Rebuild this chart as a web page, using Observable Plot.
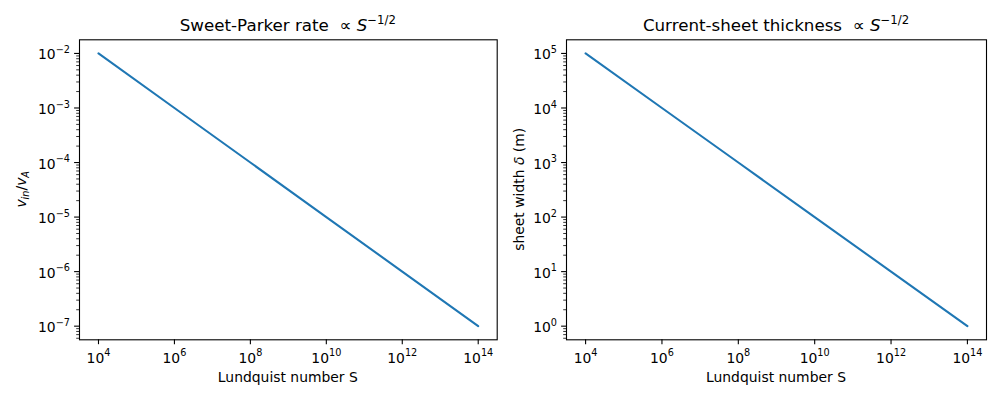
<!DOCTYPE html>
<html>
<head>
<meta charset="utf-8">
<script src="https://cdn.jsdelivr.net/npm/d3@7"></script>
<script src="https://cdn.jsdelivr.net/npm/@observablehq/plot@0.6"></script>
<style>
  html, body { margin: 0; padding: 0; background: white; }
  #chart { display: flex; width: 1000px; height: 400px; }
  #chart svg { display: block; }
</style>
</head>
<body>
<div id="chart"></div>
<script>
// ---- data ----
const lundquist = [1e4, 1e6, 1e8, 1e10, 1e12, 1e14];
const inflowRate = [1e-2, 1e-3, 1e-4, 1e-5, 1e-6, 1e-7];   // v_in / v_A
const sheetWidth = [1e5, 1e4, 1e3, 1e2, 1e1, 1e0];         // delta (m)
const xTickExps = [4, 6, 8, 10, 12, 14];
const rateTickExps = [-7, -6, -5, -4, -3, -2];
const widthTickExps = [0, 1, 2, 3, 4, 5];

const FONT = "DejaVu Sans, Liberation Sans, sans-serif";
const BLUE = "#1f77b4";

function minorTicks(domain) {
  const lo = Math.floor(Math.log10(domain[0])) - 1, hi = Math.ceil(Math.log10(domain[1]));
  const out = [];
  for (let e = lo; e <= hi; e++) for (let m = 2; m <= 9; m++) {
    const v = m * Math.pow(10, e);
    if (v >= domain[0] && v <= domain[1]) out.push(v);
  }
  return out;
}
const expFmt = d => { const e = Math.round(Math.log10(d)); return "10^" + (e < 0 ? "\u2212" + (-e) : e); };

function panel({values, yExps, yDomain, mLeft, mRight, title, ylabel, ylabelX}) {
  const data = lundquist.map((s, i) => ({S: s, v: values[i]}));
  const H = 400, W = 500, mTop = 39.3, mBottom = 60.7;
  const svg = Plot.plot({
    width: W, height: H,
    marginTop: mTop, marginBottom: mBottom, marginLeft: mLeft, marginRight: mRight,
    x: {type: "log", domain: [Math.pow(10, 3.5), Math.pow(10, 14.5)]},
    y: {type: "log", domain: yDomain},
    style: {fontFamily: FONT, fontSize: "13.9px", color: "black", background: "white", overflow: "visible"},
    marks: [
      Plot.axisY({ticks: minorTicks(yDomain), tickSize: 2.8, strokeWidth: 0.8, tickFormat: () => "", label: null}),
      Plot.axisY({ticks: yExps.map(e => Math.pow(10, e)), tickSize: 4.9, tickPadding: 4.6, strokeWidth: 1.1, tickFormat: expFmt, label: null}),
      Plot.axisX({ticks: xTickExps.map(e => Math.pow(10, e)), tickSize: 4.9, tickPadding: 8.4, strokeWidth: 1.1, tickFormat: expFmt, label: null}),
      Plot.line(data, {x: "S", y: "v", stroke: BLUE, strokeWidth: 2.08}),
      Plot.frame({stroke: "black", strokeWidth: 1.1})
    ]
  });
  const s = d3.select(svg);
  // superscript exponents in tick labels
  s.selectAll("text").each(function () {
    const el = d3.select(this);
    const m = /^10\^(.+)$/.exec(this.textContent);
    if (!m) return;
    const isY = (this.parentNode.getAttribute("aria-label") || "").startsWith("y-axis");
    el.text("");
    el.append("tspan").attr("dy", isY ? "1.6" : "0").text("10");
    el.append("tspan").attr("dy", "-6.5").style("font-size", "9.7px").text(m[1]);
  });
  const cx = mLeft + (W - mLeft - mRight) / 2;
  const cy = mTop + (H - mTop - mBottom) / 2;
  // title
  const t = s.append("text").attr("x", cx).attr("y", 31).attr("text-anchor", "middle")
    .style("font-family", FONT).style("font-size", "16.7px").style("white-space", "pre").attr("fill", "black");
  t.append("tspan").text(title + "  \u221D");
  t.append("tspan").style("font-style", "italic").text(" S");
  t.append("tspan").attr("dy", "-7").style("font-size", "11.7px").text("\u22121/2");
  // x label
  s.append("text").attr("x", cx).attr("y", 381.5).attr("text-anchor", "middle")
    .style("font-family", FONT).style("font-size", "13.9px").attr("fill", "black")
    .text("Lundquist number S");
  // y label
  const yl = s.append("text").attr("transform", `translate(${ylabelX},${cy}) rotate(-90)`)
    .attr("text-anchor", "middle").style("font-family", FONT).style("font-size", "13.9px").attr("fill", "black");
  ylabel(yl);
  return svg;
}

const chart = document.getElementById("chart");
chart.appendChild(panel({
  values: inflowRate, yExps: rateTickExps,
  yDomain: [Math.pow(10, -7.25), Math.pow(10, -1.75)],
  mLeft: 79, mRight: 3.3,
  title: "Sweet-Parker rate",
  ylabelX: 26,
  ylabel: yl => {
    yl.append("tspan").style("font-style", "italic").text("v");
    yl.append("tspan").attr("dy", "2.5").style("font-style", "italic").style("font-size", "9.7px").text("in");
    yl.append("tspan").attr("dy", "-2.5").text("/");
    yl.append("tspan").style("font-style", "italic").text("v");
    yl.append("tspan").attr("dy", "2.5").style("font-style", "italic").style("font-size", "9.7px").text("A");
  }
}));
chart.appendChild(panel({
  values: sheetWidth, yExps: widthTickExps,
  yDomain: [Math.pow(10, -0.25), Math.pow(10, 5.25)],
  mLeft: 66, mRight: 14,
  title: "Current-sheet thickness",
  ylabelX: 23.5,
  ylabel: yl => {
    yl.append("tspan").text("sheet width ");
    yl.append("tspan").style("font-style", "italic").text("\u03B4");
    yl.append("tspan").text(" (m)");
  }
}));
</script>
</body>
</html>
